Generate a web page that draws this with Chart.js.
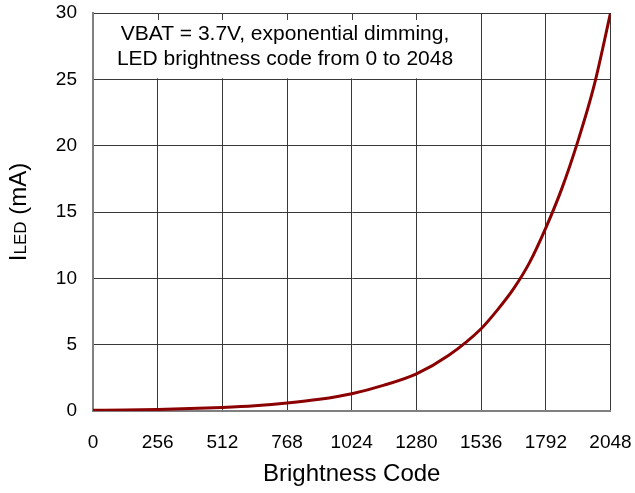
<!DOCTYPE html>
<html>
<head>
<meta charset="utf-8">
<script src="https://cdn.jsdelivr.net/npm/chart.js@4"></script>
<style>
  html, body { margin: 0; padding: 0; background: #fff; }
  #wrap { width: 635px; height: 493px; }
</style>
</head>
<body>
<div id="wrap"><canvas id="ledChart" width="635" height="493"></canvas></div>
<script>
// values
const codes = [0, 128, 256, 384, 512, 640, 768, 896, 1024, 1152, 1280, 1408, 1536, 1600, 1664, 1728, 1792, 1856, 1920, 1984, 2048];
const currentMA = [0.05, 0.08, 0.12, 0.18, 0.27, 0.4, 0.6, 0.88, 1.3, 1.95, 2.8, 4.2, 6.2, 7.6, 9.2, 11.2, 13.8, 16.8, 20.4, 24.6, 30];
const xTicks = [0, 256, 512, 768, 1024, 1280, 1536, 1792, 2048];
const yTicks = [0, 5, 10, 15, 20, 25, 30];
const noteLines = ['VBAT = 3.7V, exponential dimming,', 'LED brightness code from 0 to 2048'];

const FONT = '"Liberation Sans", Arial, sans-serif';

// white note box in the top-left corner + axis titles
const notePlugin = {
  id: 'note',
  beforeDatasetsDraw(chart) {
    const { ctx, chartArea, scales } = chart;
    const x = scales.x, y = scales.y;
    const left = chartArea.left + 1;
    const right = x.getPixelForValue(1536) - 3;
    const top = chartArea.top + 1;
    const bottom = y.getPixelForValue(25) - 1;
    ctx.save();
    ctx.fillStyle = '#fff';
    ctx.fillRect(left, top, right - left, bottom - top);
    // short inner ticks along the top edge
    ctx.strokeStyle = '#404040';
    ctx.lineWidth = 1;
    xTicks.slice(1, 6).forEach(v => {
      const px = Math.round(x.getPixelForValue(v)) + 0.5;
      ctx.beginPath();
      ctx.moveTo(px, chartArea.top);
      ctx.lineTo(px, chartArea.top + 7);
      ctx.stroke();
    });
    ctx.fillStyle = '#000';
    ctx.font = '21px ' + FONT;
    ctx.textAlign = 'center';
    ctx.textBaseline = 'alphabetic';
    const cx = 285;
    ctx.fillText(noteLines[0], cx, chartArea.top + 27);
    ctx.fillText(noteLines[1], cx, chartArea.top + 52);
    ctx.restore();
  },
  afterDraw(chart) {
    const { ctx, chartArea } = chart;
    ctx.save();
    ctx.fillStyle = '#000';
    // x title
    ctx.font = '24px ' + FONT;
    ctx.textAlign = 'center';
    ctx.textBaseline = 'middle';
    ctx.fillText('Brightness Code', (chartArea.left + chartArea.right) / 2, 474);
    // y title with subscript
    const big = '24px ' + FONT, small = '17px ' + FONT;
    ctx.font = big; const wI = ctx.measureText('I').width;
    ctx.font = small; const wS = ctx.measureText('LED').width;
    ctx.font = big; const wR = ctx.measureText(' (mA)').width;
    const total = wI + wS + wR;
    ctx.translate(26, (chartArea.top + chartArea.bottom) / 2);
    ctx.rotate(-Math.PI / 2);
    ctx.textAlign = 'left';
    ctx.textBaseline = 'alphabetic';
    let pos = -total / 2;
    ctx.font = big; ctx.fillText('I', pos, 0); pos += wI;
    ctx.font = small; ctx.fillText('LED', pos, 0); pos += wS;
    ctx.font = big; ctx.fillText(' (mA)', pos, 0);
    ctx.restore();
  }
};

const noPad = s => { s.paddingLeft = 0; s.paddingRight = 0; s.paddingTop = 0; s.paddingBottom = 0; };

new Chart(document.getElementById('ledChart'), {
  type: 'line',
  data: {
    datasets: [{
      data: codes.map((c, i) => ({ x: c, y: currentMA[i] })),
      borderColor: '#8B0000',
      borderWidth: 3,
      pointRadius: 0,
      cubicInterpolationMode: 'monotone',
      fill: false
    }]
  },
  options: {
    responsive: false,
    animation: false,
    layout: { padding: { top: 13, right: 24.5, left: 0, bottom: 0 } },
    plugins: { legend: { display: false }, tooltip: { enabled: false } },
    scales: {
      x: {
        type: 'linear',
        min: 0, max: 2048,
        afterBuildTicks: s => { s.ticks = xTicks.map(v => ({ value: v })); },
        afterFit: s => { s.height = 82; noPad(s); },
        ticks: { color: '#000', font: { size: 19, family: FONT }, padding: 20, maxRotation: 0, callback: v => String(v) },
        grid: { color: '#383838', lineWidth: 1, drawTicks: false },
        border: { color: '#808080', width: 2 }
      },
      y: {
        min: 0, max: 30,
        afterBuildTicks: s => { s.ticks = yTicks.map(v => ({ value: v })); },
        afterFit: s => { s.width = 93; noPad(s); },
        ticks: { color: '#000', font: { size: 19, family: FONT }, padding: 16, callback: v => String(v) },
        grid: { color: '#383838', lineWidth: 1, drawTicks: false },
        border: { color: '#808080', width: 2 }
      }
    }
  },
  plugins: [notePlugin]
});
</script>
</body>
</html>
